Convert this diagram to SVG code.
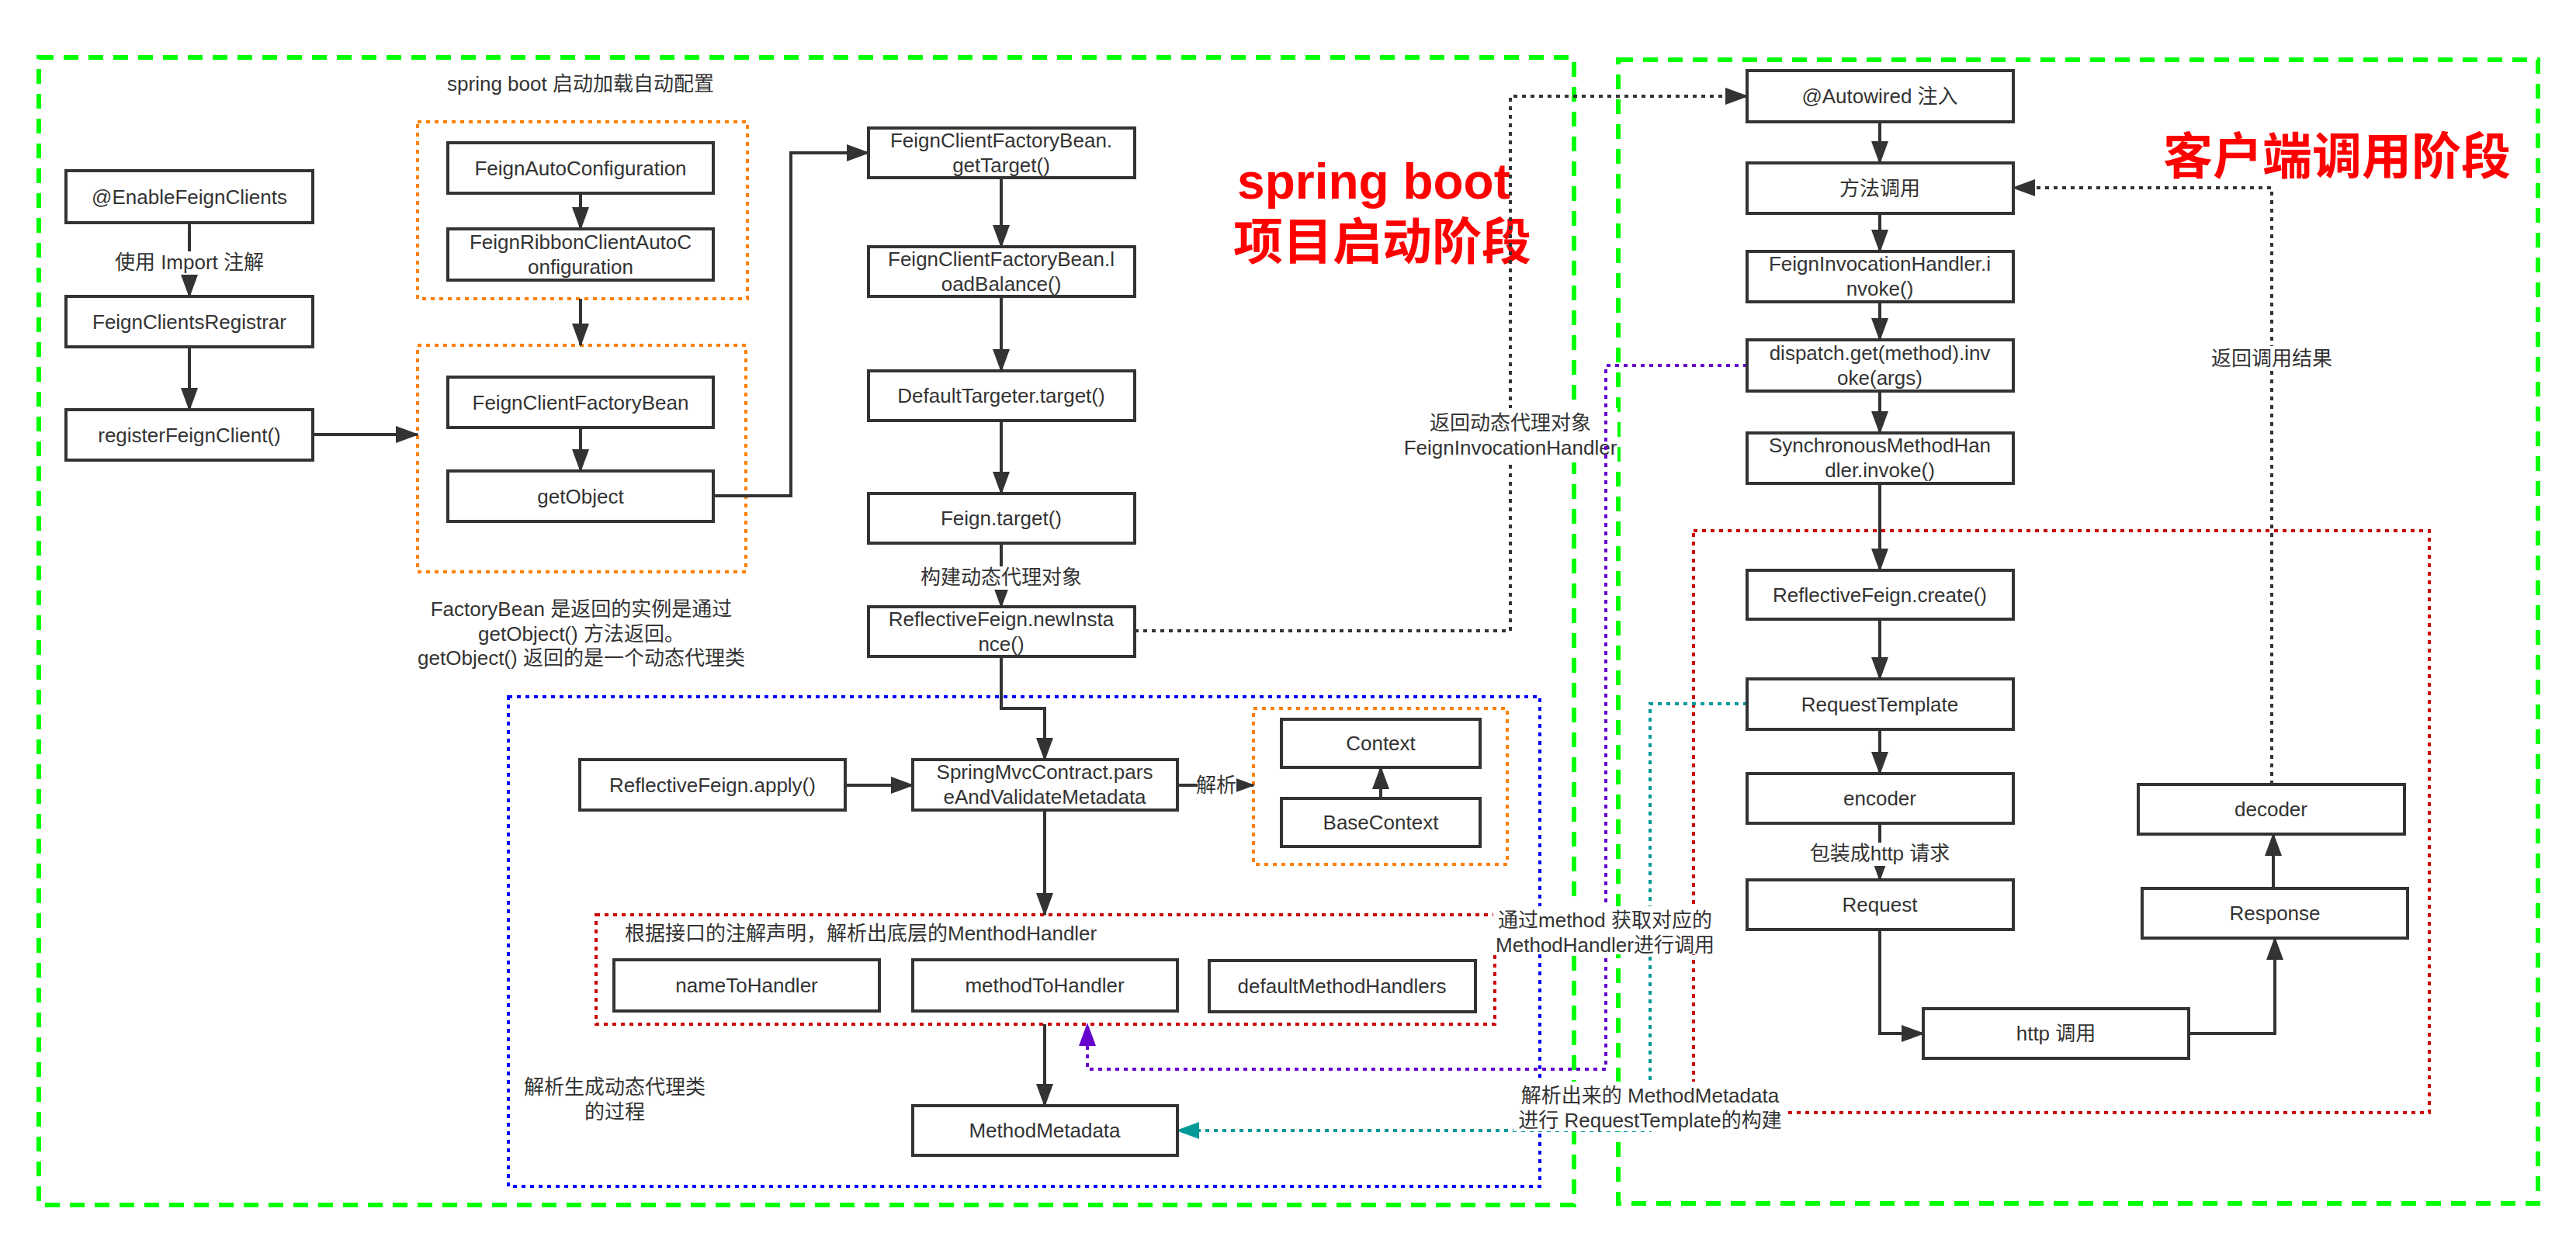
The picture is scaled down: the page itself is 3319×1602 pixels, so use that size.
<svg xmlns="http://www.w3.org/2000/svg" width="3319" height="1602" viewBox="0 0 3319 1602">
<defs>
<style>
.box{fill:#fff;stroke:#333;stroke-width:4}
.t{font-family:"Liberation Sans","Noto Sans CJK SC",sans-serif;font-size:26px;fill:#333;text-anchor:middle}
.tl{font-family:"Liberation Sans","Noto Sans CJK SC",sans-serif;font-size:26px;fill:#333;text-anchor:start}
.title{font-family:"Liberation Sans","Noto Sans CJK SC",sans-serif;font-size:64px;font-weight:bold;fill:#FF0000;text-anchor:middle}
.green{fill:none;stroke:#00FF00;stroke-width:6;stroke-dasharray:19 13}
.dot{fill:none;stroke-width:4;stroke-dasharray:5 6}
.edge{fill:none;stroke:#333;stroke-width:4}
.bg{fill:#fff}
</style>
<marker id="ah" markerWidth="30" markerHeight="22" refX="28" refY="11" orient="auto" markerUnits="userSpaceOnUse"><path d="M0,0 L30,11 L0,22 z" fill="#333"/></marker>
<marker id="ahp" markerWidth="30" markerHeight="22" refX="28" refY="11" orient="auto" markerUnits="userSpaceOnUse"><path d="M0,0 L30,11 L0,22 z" fill="#6600CC"/></marker>
<marker id="aht" markerWidth="30" markerHeight="22" refX="28" refY="11" orient="auto" markerUnits="userSpaceOnUse"><path d="M0,0 L30,11 L0,22 z" fill="#009999"/></marker>
</defs>
<rect width="3319" height="1602" fill="#fff"/>

<g id="containers">
<rect class="green" x="50" y="74" width="1978" height="1479"/>
<rect class="green" x="2085" y="77" width="1185" height="1474"/>
<rect class="dot" stroke="#FF8000" x="538" y="157" width="425" height="228"/>
<rect class="dot" stroke="#FF8000" x="538" y="445" width="423" height="292"/>
<rect class="dot" stroke="#0000FF" x="655" y="898" width="1329" height="631"/>
<rect class="dot" stroke="#FF8000" x="1615" y="913" width="327" height="201"/>
<rect class="dot" stroke="#CC0000" x="768" y="1179" width="1158" height="141"/>
<rect class="dot" stroke="#CC0000" x="2182" y="684" width="948" height="750"/>
</g>

<g id="titles">
<text class="title" x="1770" y="256">spring boot</text>
<text class="title" x="1781" y="334">项目启动阶段</text>
<text class="title" x="3011" y="224">客户端调用阶段</text>
<text class="t" x="748" y="117">spring boot 启动加载自动配置</text>
<text class="t" x="749" y="794">FactoryBean 是返回的实例是通过</text>
<text class="t" x="749" y="826">getObject() 方法返回。</text>
<text class="t" x="749" y="857">getObject() 返回的是一个动态代理类</text>
<text class="tl" x="805" y="1212">根据接口的注解声明，解析出底层的MenthodHandler</text>
<text class="t" x="792" y="1410">解析生成动态代理类</text>
<text class="t" x="792" y="1442">的过程</text>
</g>

<g id="connectors">
<path class="edge" d="M244 287 V382" marker-end="url(#ah)"/>
<path class="edge" d="M244 447 V528" marker-end="url(#ah)"/>
<path class="edge" d="M403 560 H538" marker-end="url(#ah)"/>
<path class="edge" d="M748 249 V295" marker-end="url(#ah)"/>
<path class="edge" d="M748 385 V445" marker-end="url(#ah)"/>
<path class="edge" d="M748 551 V607" marker-end="url(#ah)"/>
<path class="edge" d="M918 639 H1019 V197 H1119" marker-end="url(#ah)"/>
<path class="edge" d="M1290 229 V318" marker-end="url(#ah)"/>
<path class="edge" d="M1290 382 V478" marker-end="url(#ah)"/>
<path class="edge" d="M1290 542 V636" marker-end="url(#ah)"/>
<path class="edge" d="M1290 700 V782" marker-end="url(#ah)"/>
<path class="edge" d="M1290 846 V913 H1346 V979" marker-end="url(#ah)"/>
<path class="edge" d="M1089 1012 H1176" marker-end="url(#ah)"/>
<path class="edge" d="M1517 1012 H1615" marker-end="url(#ah)"/>
<path class="edge" d="M1779 1029 V989" marker-end="url(#ah)"/>
<path class="edge" d="M1346 1044 V1179" marker-end="url(#ah)"/>
<path class="edge" d="M1346 1320 V1425" marker-end="url(#ah)"/>
<path class="dot" stroke="#333" d="M1462 813 H1946 V124 H2251" marker-end="url(#ah)"/>
<path class="edge" d="M2422 157 V210" marker-end="url(#ah)"/>
<path class="edge" d="M2422 275 V324" marker-end="url(#ah)"/>
<path class="edge" d="M2422 389 V438" marker-end="url(#ah)"/>
<path class="edge" d="M2422 504 V558" marker-end="url(#ah)"/>
<path class="edge" d="M2422 623 V735" marker-end="url(#ah)"/>
<path class="edge" d="M2422 798 V875" marker-end="url(#ah)"/>
<path class="edge" d="M2422 940 V997" marker-end="url(#ah)"/>
<path class="edge" d="M2422 1061 V1134" marker-end="url(#ah)"/>
<path class="edge" d="M2422 1198 V1332 H2478" marker-end="url(#ah)"/>
<path class="edge" d="M2820 1332 H2931 V1209" marker-end="url(#ah)"/>
<path class="edge" d="M2929 1145 V1075" marker-end="url(#ah)"/>
<path class="dot" stroke="#333" stroke-width="3" d="M2927 1011 V242 H2594" marker-end="url(#ah)"/>
<path class="dot" stroke="#009999" d="M2251 907 H2126 V1457 H1517" marker-end="url(#aht)"/>
<rect class="bg" x="1808" y="526" width="276" height="70"/>
<text class="t" x="1946" y="554">返回动态代理对象</text>
<text class="t" x="1946" y="586">FeignInvocationHandler</text>
<path class="dot" stroke="#6600CC" d="M2251 471 H2069 V1378 H1401 V1320" marker-end="url(#ahp)"/>
<rect class="bg" x="184" y="324" width="120" height="30"/>
<text class="t" x="244" y="347">使用 Import 注解</text>
<rect class="bg" x="1190" y="730" width="200" height="30"/>
<text class="t" x="1290" y="753">构建动态代理对象</text>
<rect class="bg" x="1543" y="998" width="50" height="30"/>
<text class="t" x="1567" y="1021">解析</text>
<rect class="bg" x="2330" y="1086" width="184" height="30"/>
<text class="t" x="2422" y="1109">包装成http 请求</text>
<rect class="bg" x="2850" y="446" width="154" height="32"/>
<text class="t" x="2927" y="471">返回调用结果</text>
<rect class="bg" x="1924" y="1168" width="288" height="62"/>
<text class="t" x="2068" y="1195">通过method 获取对应的</text>
<text class="t" x="2068" y="1227">MethodHandler进行调用</text>
<rect class="bg" x="1950" y="1394" width="352" height="64"/>
<text class="t" x="2126" y="1421">解析出来的 MethodMetadata</text>
<text class="t" x="2126" y="1453">进行 RequestTemplate的构建</text>
</g>

<g id="n1"><rect class="box" x="85" y="220" width="318" height="67"/><text class="t" x="244" y="263">@EnableFeignClients</text></g>
<g id="n2"><rect class="box" x="85" y="382" width="318" height="65"/><text class="t" x="244" y="424">FeignClientsRegistrar</text></g>
<g id="n3"><rect class="box" x="85" y="528" width="318" height="65"/><text class="t" x="244" y="570">registerFeignClient()</text></g>
<g id="n4"><rect class="box" x="577" y="184" width="342" height="65"/><text class="t" x="748" y="226">FeignAutoConfiguration</text></g>
<g id="n5"><rect class="box" x="577" y="295" width="342" height="66"/><text class="t" x="748" y="321">FeignRibbonClientAutoC</text><text class="t" x="748" y="353">onfiguration</text></g>
<g id="n6"><rect class="box" x="577" y="486" width="342" height="65"/><text class="t" x="748" y="528">FeignClientFactoryBean</text></g>
<g id="n7"><rect class="box" x="577" y="607" width="342" height="65"/><text class="t" x="748" y="649">getObject</text></g>
<g id="n8"><rect class="box" x="1119" y="165" width="343" height="64"/><text class="t" x="1290" y="190">FeignClientFactoryBean.</text><text class="t" x="1290" y="222">getTarget()</text></g>
<g id="n9"><rect class="box" x="1119" y="318" width="343" height="64"/><text class="t" x="1290" y="343">FeignClientFactoryBean.l</text><text class="t" x="1290" y="375">oadBalance()</text></g>
<g id="n10"><rect class="box" x="1119" y="478" width="343" height="64"/><text class="t" x="1290" y="519">DefaultTargeter.target()</text></g>
<g id="n11"><rect class="box" x="1119" y="636" width="343" height="64"/><text class="t" x="1290" y="677">Feign.target()</text></g>
<g id="n12"><rect class="box" x="1119" y="782" width="343" height="64"/><text class="t" x="1290" y="807">ReflectiveFeign.newInsta</text><text class="t" x="1290" y="839">nce()</text></g>
<g id="n13"><rect class="box" x="1651" y="927" width="256" height="62"/><text class="t" x="1779" y="967">Context</text></g>
<g id="n14"><rect class="box" x="1651" y="1029" width="256" height="62"/><text class="t" x="1779" y="1069">BaseContext</text></g>
<g id="n15"><rect class="box" x="747" y="979" width="342" height="65"/><text class="t" x="918" y="1021">ReflectiveFeign.apply()</text></g>
<g id="n16"><rect class="box" x="1176" y="979" width="341" height="65"/><text class="t" x="1346" y="1004">SpringMvcContract.pars</text><text class="t" x="1346" y="1036">eAndValidateMetadata</text></g>
<g id="n17"><rect class="box" x="791" y="1237" width="342" height="66"/><text class="t" x="962" y="1279">nameToHandler</text></g>
<g id="n18"><rect class="box" x="1176" y="1237" width="341" height="66"/><text class="t" x="1346" y="1279">methodToHandler</text></g>
<g id="n19"><rect class="box" x="1558" y="1238" width="343" height="66"/><text class="t" x="1729" y="1280">defaultMethodHandlers</text></g>
<g id="n20"><rect class="box" x="1176" y="1425" width="341" height="64"/><text class="t" x="1346" y="1466">MethodMetadata</text></g>
<g id="n21"><rect class="box" x="2251" y="91" width="343" height="66"/><text class="t" x="2422" y="133">@Autowired 注入</text></g>
<g id="n22"><rect class="box" x="2251" y="210" width="343" height="65"/><text class="t" x="2422" y="252">方法调用</text></g>
<g id="n23"><rect class="box" x="2251" y="324" width="343" height="65"/><text class="t" x="2422" y="349">FeignInvocationHandler.i</text><text class="t" x="2422" y="381">nvoke()</text></g>
<g id="n24"><rect class="box" x="2251" y="438" width="343" height="66"/><text class="t" x="2422" y="464">dispatch.get(method).inv</text><text class="t" x="2422" y="496">oke(args)</text></g>
<g id="n25"><rect class="box" x="2251" y="558" width="343" height="65"/><text class="t" x="2422" y="583">SynchronousMethodHan</text><text class="t" x="2422" y="615">dler.invoke()</text></g>
<g id="n26"><rect class="box" x="2251" y="735" width="343" height="63"/><text class="t" x="2422" y="776">ReflectiveFeign.create()</text></g>
<g id="n27"><rect class="box" x="2251" y="875" width="343" height="65"/><text class="t" x="2422" y="917">RequestTemplate</text></g>
<g id="n28"><rect class="box" x="2251" y="997" width="343" height="64"/><text class="t" x="2422" y="1038">encoder</text></g>
<g id="n29"><rect class="box" x="2251" y="1134" width="343" height="64"/><text class="t" x="2422" y="1175">Request</text></g>
<g id="n30"><rect class="box" x="2755" y="1011" width="343" height="64"/><text class="t" x="2926" y="1052">decoder</text></g>
<g id="n31"><rect class="box" x="2760" y="1145" width="342" height="64"/><text class="t" x="2931" y="1186">Response</text></g>
<g id="n32"><rect class="box" x="2478" y="1300" width="342" height="64"/><text class="t" x="2649" y="1341">http 调用</text></g>
</svg>
